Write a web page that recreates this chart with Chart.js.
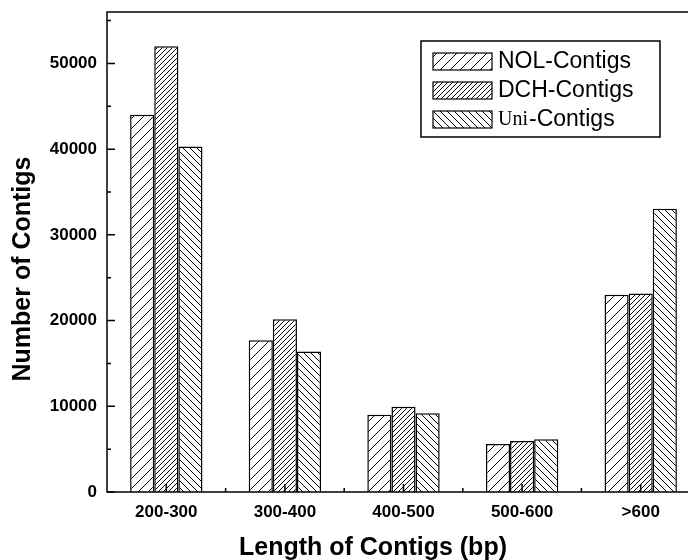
<!DOCTYPE html>
<html>
<head>
<meta charset="utf-8">
<script src="https://cdn.jsdelivr.net/npm/chart.js@4"></script>
<style>
html,body{margin:0;padding:0;overflow:hidden;background:#fff;}
#wrap{position:absolute;left:0;top:0;width:702px;height:560px;}
</style>
</head>
<body>
<div id="wrap"><canvas id="chart"></canvas></div>
<script>

const categories = ["200-300","300-400","400-500","500-600",">600"];
const nolContigs = [44000,17700,9000,5600,23000];
const dchContigs = [52000,20150,9950,5950,23150];
const uniContigs = [40300,16400,9200,6150,33050];
const yTickValues = [0,10000,20000,30000,40000,50000];
const yMinorValues = [5000,15000,25000,35000,45000,55000];

const canvas = document.getElementById("chart");
const ctx = canvas.getContext("2d");

// hatch fill, dir 1 = "/", -1 = "\"
function hatch(size, dir){
const c = document.createElement("canvas");
c.width = size; c.height = size;
const g = c.getContext("2d");
g.fillStyle = "#fff";
g.fillRect(0,0,size,size);
g.strokeStyle = "#000";
g.lineWidth = 1;
g.beginPath();
if(dir > 0){
g.moveTo(-1,size+1); g.lineTo(size+1,-1);
g.moveTo(-2,2); g.lineTo(2,-2);
g.moveTo(size-2,size+2); g.lineTo(size+2,size-2);
} else {
g.moveTo(-1,-1); g.lineTo(size+1,size+1);
g.moveTo(size-2,-2); g.lineTo(size+2,2);
g.moveTo(-2,size-2); g.lineTo(2,size+2);
}
g.stroke();
return ctx.createPattern(c,"repeat");
}

const nolFill = hatch(10,1);
const dchFill = hatch(5,1);
const uniFill = hatch(7,-1);

const font = "'Liberation Sans', Arial, sans-serif";

const frame = {
id:"frame",
afterDatasetsDraw(chart){
const c = chart.ctx;
const a = chart.chartArea;
const xs = chart.scales.x;
const ys = chart.scales.y;
c.save();
c.strokeStyle = "#000";
c.lineWidth = 1.5;
c.strokeRect(a.left,a.top,a.right-a.left,a.bottom-a.top);

c.beginPath();
yTickValues.forEach(v => {
const y = ys.getPixelForValue(v);
c.moveTo(a.left,y); c.lineTo(a.left+8,y);
});
yMinorValues.forEach(v => {
const y = ys.getPixelForValue(v);
c.moveTo(a.left,y); c.lineTo(a.left+4,y);
});
categories.forEach((cat,i) => {
const x = xs.getPixelForValue(i);
c.moveTo(x,a.bottom); c.lineTo(x,a.bottom-8);
if(i < categories.length-1){
const xb = (x + xs.getPixelForValue(i+1))/2;
c.moveTo(xb,a.bottom); c.lineTo(xb,a.bottom-4);
}
});
c.stroke();

// axis titles
c.fillStyle = "#000";
c.font = "bold 25px " + font;
c.textAlign = "center";
c.textBaseline = "middle";
c.fillText("Length of Contigs (bp)",373,548);
c.translate(23,269);
c.rotate(-Math.PI/2);
c.fillText("Number of Contigs",0,0);
c.restore();

// legend
c.save();
c.lineWidth = 1.5;
c.strokeStyle = "#000";
c.fillStyle = "#fff";
c.fillRect(421,41,239,96);
c.strokeRect(421,41,239,96);
const rows = [
{fill:nolFill, pre:"", text:"NOL-Contigs"},
{fill:dchFill, pre:"", text:"DCH-Contigs"},
{fill:uniFill, pre:"Uni", text:"-Contigs"}
];
rows.forEach((r,i) => {
const y = 53 + i*29;
c.fillStyle = r.fill;
c.fillRect(433,y,59,17);
c.lineWidth = 1.2;
c.strokeRect(433,y,59,17);
c.fillStyle = "#000";
c.textAlign = "left";
c.textBaseline = "middle";
let x = 498;
if(r.pre){
c.font = "20px 'Liberation Serif', serif";
c.fillText(r.pre,x,y+9);
x += c.measureText(r.pre).width + 1;
}
c.font = "23px " + font;
c.fillText(r.text,x,y+9);
});
c.restore();
}
};

new Chart(canvas,{
type:"bar",
data:{
labels:categories,
datasets:[
{label:"NOL-Contigs",data:nolContigs,backgroundColor:nolFill,borderColor:"#000",borderWidth:1.5},
{label:"DCH-Contigs",data:dchContigs,backgroundColor:dchFill,borderColor:"#000",borderWidth:1.5},
{label:"Uni-Contigs",data:uniContigs,backgroundColor:uniFill,borderColor:"#000",borderWidth:1.5}
]
},
options:{
responsive:true,
maintainAspectRatio:false,
animation:false,
layout:{padding:{top:12,right:2,left:0,bottom:0}},
plugins:{legend:{display:false},tooltip:{enabled:false}},
datasets:{bar:{categoryPercentage:0.61,barPercentage:1}},
scales:{
x:{
grid:{display:false,drawTicks:false},
border:{display:false},
ticks:{color:"#000",font:{family:font,size:17,weight:"bold"},padding:10,maxRotation:0},
afterFit(s){ s.height = 68; s.paddingLeft = 0; s.paddingRight = 0; }
},
y:{
min:0,
max:56000,
grid:{display:false,drawTicks:false},
border:{display:false},
ticks:{color:"#000",font:{family:font,size:17,weight:"bold"},padding:10,callback:v => String(v)},
afterBuildTicks(s){ s.ticks = yTickValues.map(v => ({value:v})); },
afterFit(s){ s.width = 107; s.paddingTop = 0; s.paddingBottom = 0; }
}
}
},
plugins:[frame]
});

</script>
</body>
</html>
